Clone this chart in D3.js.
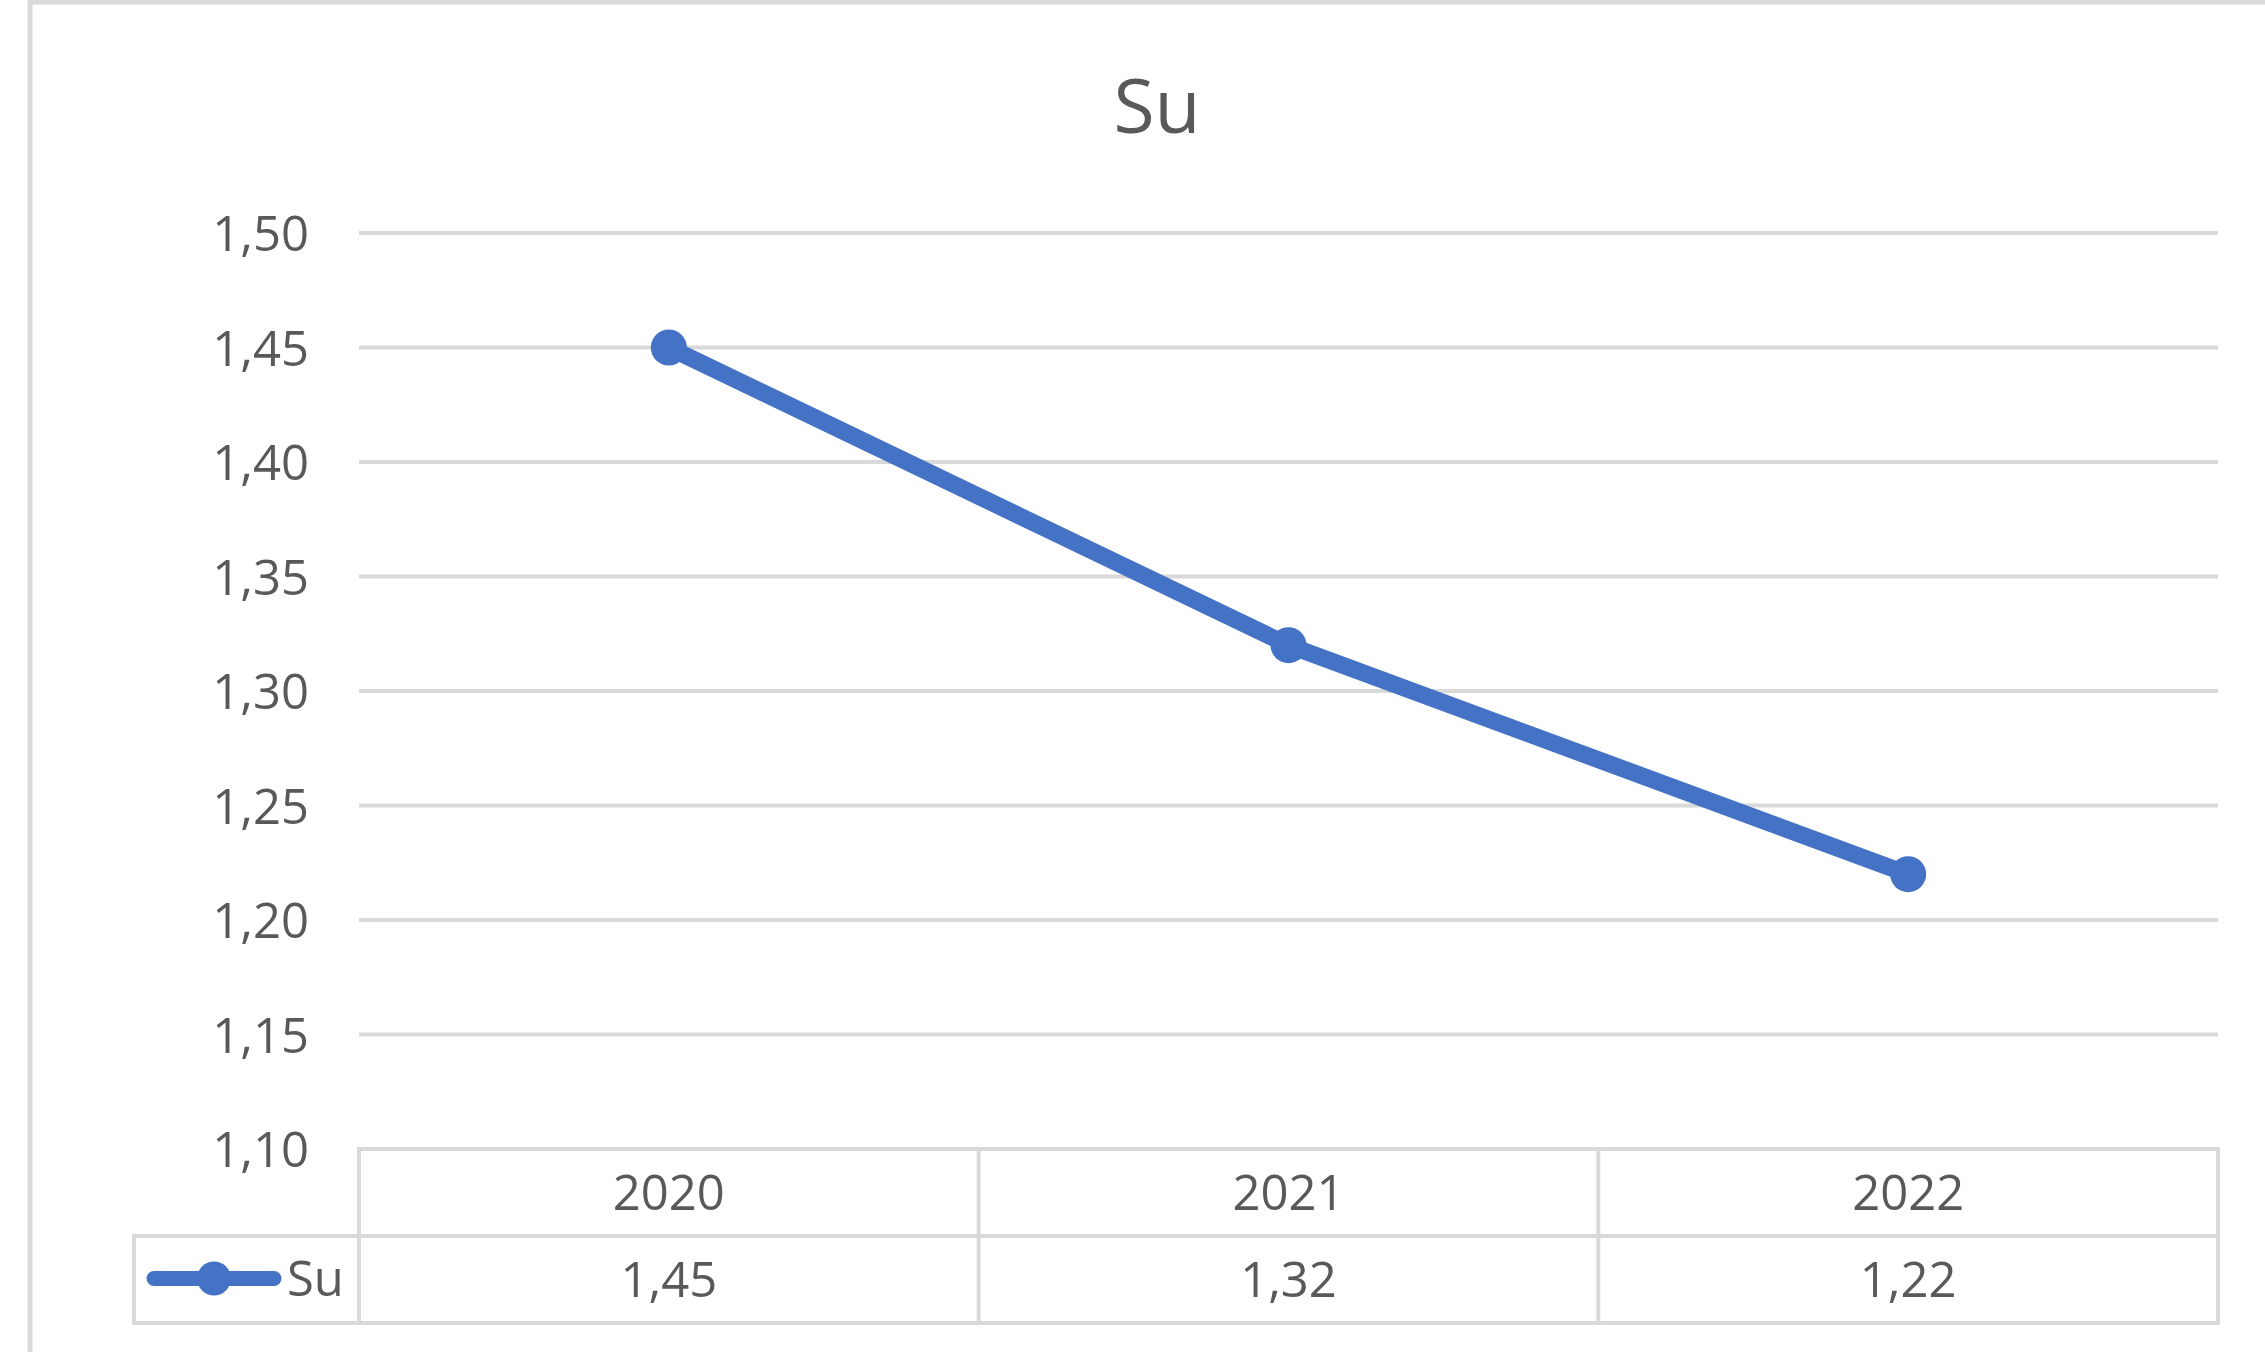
<!DOCTYPE html>
<html>
<head>
<meta charset="utf-8">
<title>Su</title>
<script src="https://cdn.jsdelivr.net/npm/d3@7"></script>
<style>
  html, body { margin: 0; padding: 0; background: #ffffff; }
  svg { display: block; }
  text { font-family: "Open Sans", "Liberation Sans", sans-serif; fill: #595959; }
</style>
</head>
<body>
<svg id="chart" width="2265" height="1352"></svg>
<script>
// Chart content
const chartTitle = "Su";
const seriesName = "Su";
const years = ["2020", "2021", "2022"];
const suValues = [1.45, 1.32, 1.22];
const yTicks = [1.10, 1.15, 1.20, 1.25, 1.30, 1.35, 1.40, 1.45, 1.50];

// Layout
const W = 2265, H = 1352;
const plotLeft = 359, plotRight = 2218;
const plotTop = 233, plotBottom = 1149;
const rowH = 87;
const legendLeft = 134;
const gridColor = "#d9d9d9";
const lineColor = "#4472c4";
const labelSize = 49;
const lineWidth = 17;
const markerR = 18;

const svg = d3.select("#chart");

// Decimal comma number format
const locale = d3.formatLocale({ decimal: ",", thousands: ".", grouping: [3], currency: ["", ""] });
const fmt = locale.format(".2f");

const x = d3.scaleBand().domain(years).range([plotLeft, plotRight]).padding(0);
const y = d3.scaleLinear().domain([1.10, 1.50]).range([plotBottom, plotTop]);
const cx = d => x(d) + x.bandwidth() / 2;

// Chart frame
svg.append("rect")
  .attr("x", 30).attr("y", 2)
  .attr("width", W + 40).attr("height", H + 40)
  .attr("fill", "#ffffff")
  .attr("stroke", gridColor).attr("stroke-width", 5);

// Title
svg.append("text")
  .attr("x", 1157).attr("y", 133)
  .attr("text-anchor", "middle")
  .style("font-size", "75px")
  .text(chartTitle);

// Horizontal gridlines
svg.append("g").selectAll("line")
  .data(yTicks.filter(t => t > 1.10))
  .join("line")
  .attr("x1", plotLeft).attr("x2", plotRight)
  .attr("y1", d => y(d)).attr("y2", d => y(d))
  .attr("stroke", gridColor).attr("stroke-width", 4);

// Value axis labels
const yAxis = svg.append("g")
  .attr("transform", `translate(${plotLeft},0)`)
  .call(d3.axisLeft(y).tickValues(yTicks).tickFormat(fmt).tickSize(0).tickPadding(50));
yAxis.select(".domain").remove();
yAxis.selectAll("text")
  .attr("font-family", null)
  .style("font-size", labelSize + "px")
  .attr("fill", null)
  .attr("dy", "0.36em");

// Data table grid
const table = svg.append("g")
  .attr("stroke", gridColor).attr("stroke-width", 4).attr("stroke-linecap", "square");
const row1 = plotBottom, row2 = plotBottom + rowH, row3 = plotBottom + 2 * rowH;
table.append("line").attr("x1", plotLeft).attr("x2", plotRight).attr("y1", row1).attr("y2", row1);
table.append("line").attr("x1", legendLeft).attr("x2", plotRight).attr("y1", row2).attr("y2", row2);
table.append("line").attr("x1", legendLeft).attr("x2", plotRight).attr("y1", row3).attr("y2", row3);
table.append("line").attr("x1", legendLeft).attr("x2", legendLeft).attr("y1", row2).attr("y2", row3);
const colEdges = years.map(d => x(d)).concat([x(years[years.length - 1]) + x.bandwidth()]);
table.selectAll("line.col")
  .data(colEdges)
  .join("line").attr("class", "col")
  .attr("x1", d => d).attr("x2", d => d)
  .attr("y1", row1).attr("y2", row3);

// Table header (years) and values
svg.append("g").selectAll("text")
  .data(years)
  .join("text")
  .attr("x", d => cx(d))
  .attr("y", (row1 + row2) / 2)
  .attr("dy", "0.36em")
  .attr("text-anchor", "middle")
  .style("font-size", labelSize + "px")
  .text(d => d);

svg.append("g").selectAll("text")
  .data(suValues)
  .join("text")
  .attr("x", (d, i) => cx(years[i]))
  .attr("y", (row2 + row3) / 2)
  .attr("dy", "0.36em")
  .attr("text-anchor", "middle")
  .style("font-size", labelSize + "px")
  .text(d => fmt(d));

// Legend key in the table
const legY = (row2 + row3) / 2 - 1;
svg.append("line")
  .attr("x1", 154).attr("x2", 274)
  .attr("y1", legY).attr("y2", legY)
  .attr("stroke", lineColor).attr("stroke-width", 15).attr("stroke-linecap", "round");
svg.append("circle")
  .attr("cx", 214).attr("cy", legY).attr("r", 17)
  .attr("fill", lineColor);
svg.append("text")
  .attr("x", 287).attr("y", legY)
  .attr("dy", "0.36em")
  .style("font-size", labelSize + "px")
  .text(seriesName);

// Series line and markers
const series = years.map((d, i) => ({ year: d, value: suValues[i] }));
svg.append("path")
  .datum(series)
  .attr("fill", "none")
  .attr("stroke", lineColor).attr("stroke-width", lineWidth)
  .attr("stroke-linejoin", "round")
  .attr("d", d3.line().x(d => cx(d.year)).y(d => y(d.value)));
svg.append("g").selectAll("circle")
  .data(series)
  .join("circle")
  .attr("cx", d => cx(d.year)).attr("cy", d => y(d.value))
  .attr("r", markerR)
  .attr("fill", lineColor);
</script>
</body>
</html>
